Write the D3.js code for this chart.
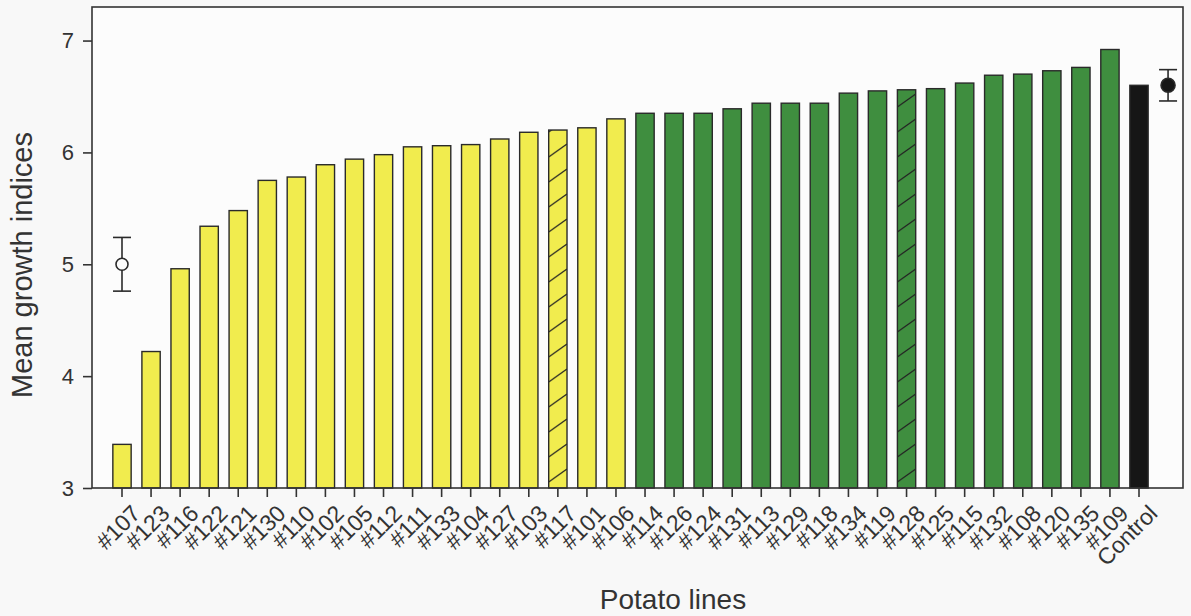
<!DOCTYPE html>
<html>
<head>
<meta charset="utf-8">
<script src="https://cdn.jsdelivr.net/npm/d3@7"></script>
<style>
  body { margin: 0; background: #f8f8f8; }
  svg { display: block; }
</style>
</head>
<body>
<div id="chart"></div>
<script>
// potato lines, sorted by mean growth index
const lines = ["#107", "#123", "#116", "#122", "#121", "#130", "#110", "#102", "#105", "#112",
    "#111", "#133", "#104", "#127", "#103", "#117", "#101", "#106", "#114", "#126",
    "#124", "#131", "#113", "#129", "#118", "#134", "#119", "#128", "#125", "#115",
    "#132", "#108", "#120", "#135", "#109", "Control"];
const growth = [3.39, 4.22, 4.96, 5.34, 5.48, 5.75, 5.78, 5.89, 5.94, 5.98,
    6.05, 6.06, 6.07, 6.12, 6.18, 6.20, 6.22, 6.30, 6.35, 6.35,
    6.35, 6.39, 6.44, 6.44, 6.44, 6.53, 6.55, 6.56, 6.57, 6.62,
    6.69, 6.70, 6.73, 6.76, 6.92, 6.60];
// group: 0 = yellow, 1 = green, 2 = control
const group = [0, 0, 0, 0, 0, 0, 0, 0, 0, 0, 0, 0, 0, 0, 0, 0, 0, 0,
    1, 1, 1, 1, 1, 1, 1, 1, 1, 1, 1, 1, 1, 1, 1, 1, 1, 2];
const hatched = ["#117", "#128"];
// mean +/- error markers (yellow group, green group)
const errMean = [5.0, 6.6];
const errLow = [4.76, 6.46];
const errHigh = [5.24, 6.74];
const yTicks = [3, 4, 5, 6, 7];

const W = 1191, H = 616;
const margin = { top: 7, left: 92, bottom: 128, right: 8 };
const fillColors = ["#f1ec4e", "#3f8e3f", "#161616"];
const font = "'Liberation Sans', Arial, sans-serif";

var svg = d3.select("#chart")
    .append("svg")
    .attr("width", W)
    .attr("height", H);

var plotBottom = H - margin.bottom;
var plotRight = W - margin.right;

// set the ranges
var step = (1139 - 122) / 35;
var x = d3.scaleBand()
    .domain(lines)
    .range([122 - step / 2, 1139 + step / 2])
    .paddingInner(0.37)
    .paddingOuter(0.185);
var y = d3.scaleLinear()
    .domain([3, 7.3])
    .range([plotBottom, margin.top]);

// plot background
svg.append("rect")
    .attr("x", margin.left)
    .attr("y", margin.top)
    .attr("width", plotRight - margin.left)
    .attr("height", plotBottom - margin.top)
    .style("fill", "#fcfcfc");

// hatch patterns, one per hatched bar so the lines start at the bar edge
var defs = svg.append("defs");
hatched.forEach(function (name, k) {
    var p = defs.append("pattern")
        .attr("id", "hatch" + k)
        .attr("patternUnits", "userSpaceOnUse")
        .attr("x", x(name))
        .attr("y", plotBottom)
        .attr("width", x.bandwidth())
        .attr("height", 25);
    p.append("rect")
        .attr("width", x.bandwidth())
        .attr("height", 25)
        .style("fill", fillColors[group[lines.indexOf(name)]]);
    p.append("line")
        .attr("x1", 0).attr("y1", 19)
        .attr("x2", x.bandwidth()).attr("y2", 6)
        .style("stroke", "#222")
        .style("stroke-width", 1.3);
});

// bars
svg.append("g")
    .selectAll("rect")
    .data(lines)
    .join("rect")
    .attr("x", d => x(d))
    .attr("y", (d, i) => y(growth[i]))
    .attr("width", x.bandwidth())
    .attr("height", (d, i) => plotBottom - y(growth[i]))
    .style("fill", (d, i) => hatched.indexOf(d) >= 0
        ? "url(#hatch" + hatched.indexOf(d) + ")"
        : fillColors[group[i]])
    .style("stroke", "#2a2a2a")
    .style("stroke-width", "1.4px");

// error markers: over the first bar and to the right of control
var errX = [x(lines[0]) + x.bandwidth() / 2,
    x("Control") + x.bandwidth() / 2 + x.step()];
var eg = svg.append("g")
    .style("stroke", "#2a2a2a")
    .style("stroke-width", "1.6px");
errMean.forEach(function (m, i) {
    eg.append("line")
        .attr("x1", errX[i]).attr("x2", errX[i])
        .attr("y1", y(errLow[i])).attr("y2", y(errHigh[i]));
    [errLow[i], errHigh[i]].forEach(function (v) {
        eg.append("line")
            .attr("x1", errX[i] - 9).attr("x2", errX[i] + 9)
            .attr("y1", y(v)).attr("y2", y(v));
    });
    eg.append("circle")
        .attr("cx", errX[i])
        .attr("cy", y(m))
        .attr("r", i === 0 ? 6 : 7)
        .style("fill", i === 0 ? "#fcfcfc" : "#161616");
});

// frame
svg.append("rect")
    .attr("x", margin.left)
    .attr("y", margin.top)
    .attr("width", plotRight - margin.left)
    .attr("height", plotBottom - margin.top)
    .style("fill", "none")
    .style("stroke", "#333")
    .style("stroke-width", "1.6px");

// Add the X Axis
svg.append("g")
    .attr("transform", "translate(0," + plotBottom + ")")
    .style("color", "#333")
    .style("font-family", font)
    .style("font-size", "23px")
    .call(d3.axisBottom(x).tickSize(9).tickPadding(4))
    .call(g => g.select(".domain").remove())
    .call(g => g.selectAll(".tick line").style("stroke-width", "1.6px"))
    .call(g => g.selectAll(".tick text")
        .attr("text-anchor", "end")
        .attr("dy", "0.35em")
        .attr("transform", "translate(5,12) rotate(-45)")
        .style("fill", "#333"));

// Add the Y Axis
svg.append("g")
    .attr("transform", "translate(" + margin.left + ",0)")
    .style("color", "#333")
    .style("font-family", font)
    .style("font-size", "22px")
    .call(d3.axisLeft(y).tickValues(yTicks).tickFormat(d3.format("d"))
        .tickSize(9).tickPadding(9))
    .call(g => g.select(".domain").remove())
    .call(g => g.selectAll(".tick line").style("stroke-width", "1.6px"))
    .call(g => g.selectAll(".tick text").style("fill", "#333"));

// axis titles
svg.append("text")
    .attr("transform", "translate(32,265) rotate(-90)")
    .style("text-anchor", "middle")
    .style("font-family", font)
    .style("font-size", "29px")
    .style("fill", "#333")
    .text("Mean growth indices");

svg.append("text")
    .attr("x", 673)
    .attr("y", 609)
    .style("text-anchor", "middle")
    .style("font-family", font)
    .style("font-size", "28px")
    .style("fill", "#333")
    .text("Potato lines");
</script>
</body>
</html>
